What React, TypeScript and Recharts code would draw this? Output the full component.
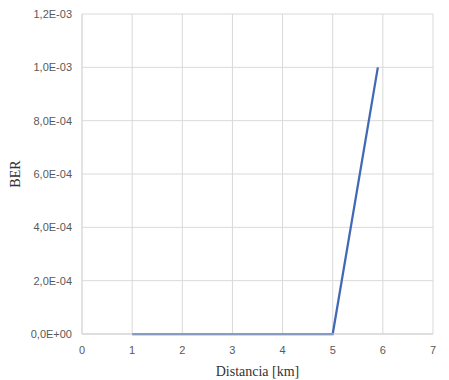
import React from 'react';
import { LineChart, Line, XAxis, YAxis, CartesianGrid, Label } from 'recharts';

const distances = [1, 2, 3, 4, 5, 5.9];
const berValues = [0, 0, 0, 0, 0, 0.001];
const xTicks = [0, 1, 2, 3, 4, 5, 6, 7];
const yTicks = [0, 0.0002, 0.0004, 0.0006, 0.0008, 0.001, 0.0012];

const data = distances.map((d, i) => ({ x: d, ber: berValues[i] }));

const fmtY = (v: number) => {
  const s = v.toExponential(1); // e.g. 1.2e-3
  const [m, e] = s.split('e');
  const exp = parseInt(e, 10);
  const sign = exp < 0 ? '-' : '+';
  const abs = Math.abs(exp).toString().padStart(2, '0');
  return `${m.replace('.', ',')}E${sign}${abs}`;
};

const tickStyle = { fontFamily: 'Liberation Sans, Arial, sans-serif', fontSize: 11, fill: '#595959' };
const titleStyle = { fontFamily: 'Liberation Serif, serif', fontSize: 14, fill: '#333333' };

export default function App() {
  return (
    <div style={{ position: 'absolute', left: 0, top: 0, width: 449, height: 380, background: '#fff' }}>
      <LineChart width={449} height={380} data={data} margin={{ top: 14, right: 16, bottom: 0, left: 0 }}>
        <CartesianGrid stroke="#d9d9d9" strokeWidth={1} />
        <XAxis
          dataKey="x"
          type="number"
          domain={[0, 7]}
          ticks={xTicks}
          tickLine={false}
          tickSize={0}
          tickMargin={12}
          height={46}
          axisLine={{ stroke: '#d0d0d0' }}
          tick={tickStyle}
        >
          <Label value="Distancia [km]" position="insideBottom" offset={4} style={titleStyle} />
        </XAxis>
        <YAxis
          type="number"
          domain={[0, 0.0012]}
          ticks={yTicks}
          tickFormatter={fmtY}
          tickLine={false}
          tickSize={0}
          tickMargin={10}
          width={82}
          axisLine={{ stroke: '#d9d9d9' }}
          tick={tickStyle}
        >
          <Label value="BER" angle={-90} position="center" dx={-26} style={titleStyle} />
        </YAxis>
        <Line
          type="linear"
          dataKey="ber"
          stroke="#4169B4"
          strokeWidth={2.25}
          dot={false}
          isAnimationActive={false}
        />
      </LineChart>
    </div>
  );
}
